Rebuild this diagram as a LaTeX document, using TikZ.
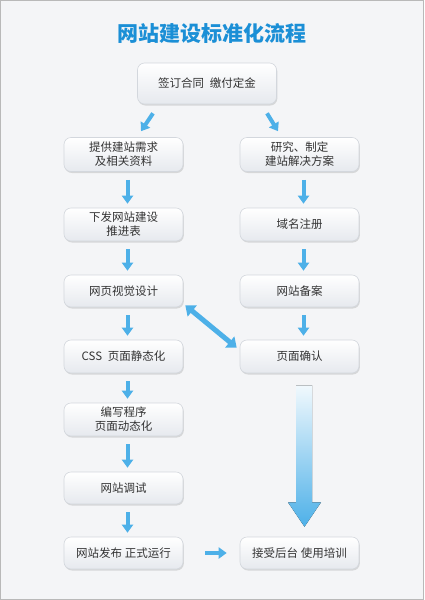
\documentclass[tikz,border=0pt]{standalone}
\usepackage{fontspec}
\newfontfamily\cjk{Noto Sans CJK SC}
\usetikzlibrary{arrows.meta,shadows,calc}
\definecolor{pagebg}{HTML}{F4F5F7}
\definecolor{titleblue}{HTML}{1B8FD6}
\definecolor{arrowblue}{HTML}{4DB0E8}
\definecolor{boxline}{HTML}{D3D7DD}
\definecolor{boxbottom}{HTML}{E6E9EE}
\definecolor{textgray}{HTML}{333333}
\begin{document}
\begin{tikzpicture}[x=1pt, y=-1pt,
    stepbox/.style={draw=boxline, line width=0.6pt, rounded corners=7pt,
      top color=white, bottom color=boxbottom, minimum width=119pt,
      minimum height=33pt, align=center, text=textgray, inner sep=0pt,
      font=\cjk\fontsize{11.5}{14}\selectfont,
      drop shadow={shadow xshift=0.8pt, shadow yshift=-1.5pt, opacity=0.12, fill=black}},
    flow/.style={line width=4pt, draw=arrowblue, -{Triangle[length=8pt,width=11pt]},
      shorten <=8pt, shorten >=4pt},
    both/.style={line width=5pt, draw=arrowblue,
      {Triangle[length=9pt,width=14pt]}-{Triangle[length=9pt,width=14pt]}}]
      \fill[pagebg] (0, 0) rectangle (424, 600);
      \draw[gray!55, line width=1pt] (0.5, 0.5) rectangle (423.5, 599.5);
      \node[font=\cjk\bfseries\fontsize{21}{24}\selectfont, text=titleblue] (title) at (212, 33) {网站建设标准化流程};
      \node[stepbox, minimum width=139pt, minimum height=41pt] (sign) at (207, 83.5) {签订合同\hspace{0.5em}缴付定金};
      % left column
      \node[stepbox, minimum height=34pt] (req) at (123.5, 154.5) {提供建站需求\\及相关资料};
      \node[stepbox] (plan) at (123.5, 224.5) {下发网站建设\\推进表};
      \node[stepbox, minimum height=32pt] (design) at (123.5, 291) {网页视觉设计};
      \node[stepbox] (css) at (123.5, 356.5) {CSS\hspace{0.5em}页面静态化};
      \node[stepbox] (code) at (123.5, 419.5) {编写程序\\页面动态化};
      \node[stepbox, minimum height=32pt] (debug) at (123.5, 488) {网站调试};
      \node[stepbox, minimum height=32pt] (launch) at (123.5, 553) {网站发布 正式运行};
      % right column
      \node[stepbox, minimum height=34pt] (solve) at (299.5, 154.5) {研究、制定\\建站解决方案};
      \node[stepbox] (domain) at (299.5, 224.5) {域名注册};
      \node[stepbox, minimum height=32pt] (record) at (299.5, 291) {网站备案};
      \node[stepbox] (confirm) at (299.5, 356.5) {页面确认};
      \node[stepbox, minimum height=32pt] (train) at (299.5, 553) {接受后台 使用培训};
      % arrows
      \draw[flow, shorten <=0pt, shorten >=0pt] ([xshift=-54pt, yshift=-9pt]sign.south) -- ([xshift=17.5pt, yshift=6pt]req.north);
      \draw[flow, shorten <=0pt, shorten >=0pt] ([xshift=60pt, yshift=-9pt]sign.south) -- ([xshift=-21.5pt, yshift=6pt]solve.north);
      \foreach \a/\b in {req/plan, plan/design, design/css, css/code, code/debug, debug/launch, solve/domain, domain/record, record/confirm}
        \draw[flow] ([xshift=4pt]\a.south) -- ([xshift=4pt]\b.north);
      \draw[both] ([xshift=2pt, yshift=2pt]design.south east) -- ([xshift=-3pt, yshift=-8pt]confirm.north west);
      \draw[flow, shorten <=22pt, shorten >=13pt] (launch.east) -- (train.west);
      \fill[top color=arrowblue!8, bottom color=arrowblue]
        ($(confirm.south)+(-3.5, 12)$) -- ($(confirm.south)+(12.5, 12)$) --
        ($(confirm.south)+(12.5, 129)$) -- ($(confirm.south)+(21.5, 129)$) --
        ($(train.north)+(5, -10)$) -- ($(confirm.south)+(-11.5, 129)$) --
        ($(confirm.south)+(-3.5, 129)$) -- cycle;
    \end{tikzpicture}
\end{document}
